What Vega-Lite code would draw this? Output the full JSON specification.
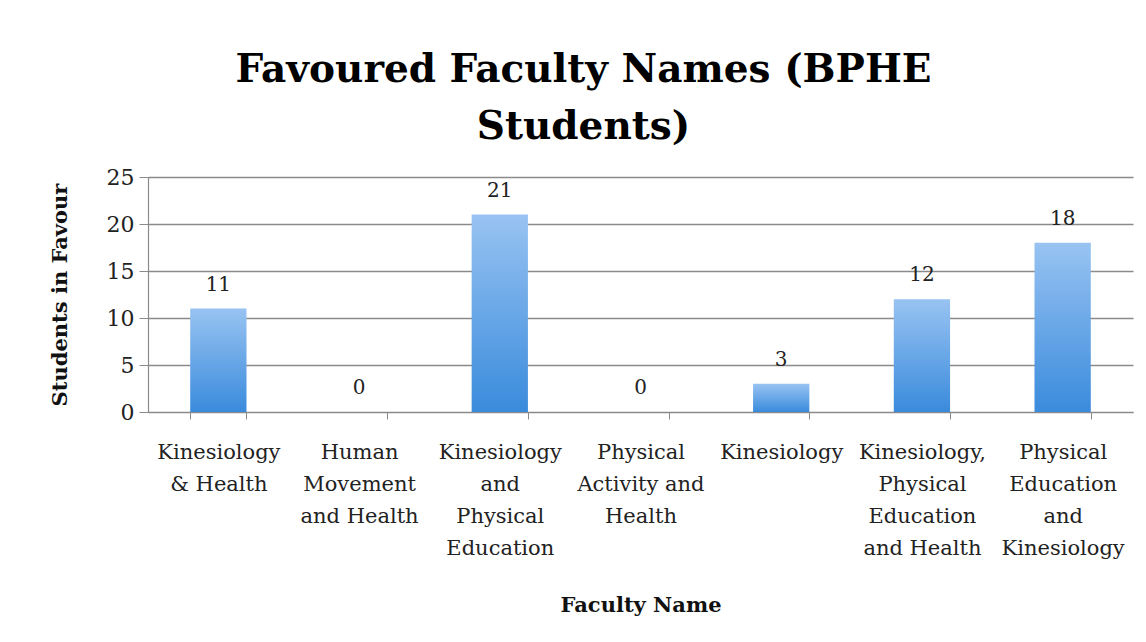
{
  "$schema": "https://vega.github.io/schema/vega-lite/v6.json",
  "width": 985,
  "height": 235,
  "autosize": {"type": "none"},
  "padding": {"left": 148, "top": 177, "right": 13, "bottom": 230},
  "background": "white",
  "title": {
    "text": ["Favoured Faculty Names (BPHE", "Students)"],
    "font": "DejaVu Serif",
    "fontWeight": "bold",
    "fontSize": 39,
    "lineHeight": 57,
    "anchor": "middle",
    "dx": -57,
    "offset": 19,
    "color": "#000000"
  },
  "data": {
    "values": [
      {"name": "Kinesiology|& Health", "count": 11},
      {"name": "Human|Movement|and Health", "count": 0},
      {"name": "Kinesiology|and|Physical|Education", "count": 21},
      {"name": "Physical|Activity and|Health", "count": 0},
      {"name": "Kinesiology", "count": 3},
      {"name": "Kinesiology,|Physical|Education|and Health", "count": 12},
      {"name": "Physical|Education|and|Kinesiology", "count": 18}
    ]
  },
  "encoding": {
    "x": {
      "field": "name",
      "type": "nominal",
      "sort": null,
      "scale": {"paddingInner": 0.6, "paddingOuter": 0.3},
      "axis": {
        "title": "Faculty Name",
        "titleFont": "DejaVu Serif",
        "titleFontWeight": "bold",
        "titleFontSize": 21,
        "titleColor": "#111111",
        "titlePadding": 36,
        "labelExpr": "split(datum.label, '|')",
        "labelAngle": 0,
        "labelFont": "DejaVu Serif",
        "labelFontSize": 21,
        "labelLineHeight": 32,
        "labelColor": "#222222",
        "labelPadding": 22,
        "labelBaseline": "top",
        "tickBand": "extent",
        "tickSize": 7,
        "tickColor": "#8a8a8a",
        "domainColor": "#8a8a8a",
        "domainWidth": 1.2,
        "grid": false
      }
    },
    "y": {
      "field": "count",
      "type": "quantitative",
      "scale": {"domain": [0, 25], "nice": false},
      "axis": {
        "title": "Students in Favour",
        "titleFont": "DejaVu Serif",
        "titleFontWeight": "bold",
        "titleFontSize": 21,
        "titleColor": "#111111",
        "titlePadding": 36,
        "values": [0, 5, 10, 15, 20, 25],
        "labelFont": "DejaVu Serif",
        "labelFontSize": 22,
        "labelColor": "#222222",
        "labelPadding": 5,
        "tickSize": 9,
        "tickColor": "#8a8a8a",
        "domainColor": "#8a8a8a",
        "domainWidth": 1.2,
        "grid": true,
        "gridColor": "#8a8a8a",
        "gridWidth": 1.3
      }
    }
  },
  "layer": [
    {
      "mark": {
        "type": "bar",
        "color": {
          "gradient": "linear",
          "x1": 0, "y1": 0, "x2": 0, "y2": 1,
          "stops": [
            {"offset": 0, "color": "#98c3f2"},
            {"offset": 1, "color": "#3a8bdc"}
          ]
        }
      }
    },
    {
      "mark": {
        "type": "text",
        "dy": -24,
        "font": "DejaVu Serif",
        "fontSize": 20,
        "color": "#222222"
      },
      "encoding": {"text": {"field": "count", "type": "quantitative"}}
    }
  ],
  "config": {"view": {"stroke": null}}
}
